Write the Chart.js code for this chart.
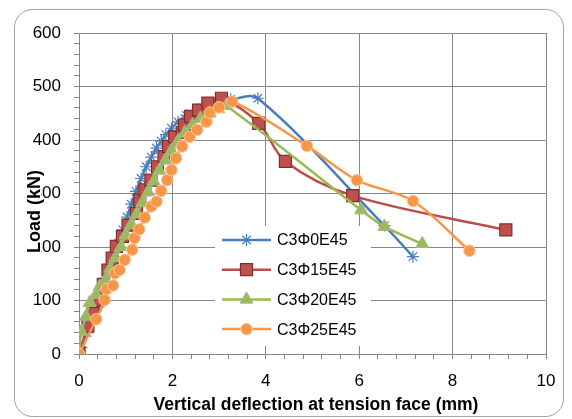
<!DOCTYPE html>
<html>
<head>
<meta charset="utf-8">
<title>Load - deflection</title>
<script src="https://cdn.jsdelivr.net/npm/chart.js@4.4.0/dist/chart.umd.min.js"></script>
<style>
  html, body { margin: 0; padding: 0; background: #fff; }
</style>
</head>
<body>
<canvas id="loadChart" width="572" height="419"></canvas>
<script>
// Load vs. vertical deflection at tension face, four specimens
var seriesNames = ["C3Φ0E45", "C3Φ15E45", "C3Φ20E45", "C3Φ25E45"];

var c0Defl = [0, 0.05, 0.17, 0.3, 0.4, 0.5, 0.58, 0.67, 0.76, 0.85, 0.94, 1.03, 1.12, 1.22, 1.33, 1.44, 1.55, 1.66, 1.76, 1.86, 1.98, 2.12, 2.3, 2.55, 2.8, 3.05, 3.25, 3.83, 6.54, 7.15];
var c0Load = [0, 12, 40, 65, 88, 112, 135, 158, 182, 207, 232, 256, 280, 304, 328, 350, 368, 385, 398, 410, 422, 434, 446, 458, 467, 474, 476, 478, 240, 182];

var c15Defl = [0, 0.19, 0.3, 0.41, 0.52, 0.62, 0.71, 0.8, 0.93, 1.05, 1.23, 1.3, 1.41, 1.54, 1.68, 1.82, 1.92, 2.05, 2.21, 2.26, 2.39, 2.56, 2.76, 3.05, 3.85, 4.42, 5.86, 9.14];
var c15Load = [2, 52, 76, 101, 130, 157, 179, 201, 220, 241, 263, 288, 307, 325, 350, 369, 388, 406, 414, 428, 444, 456, 469, 478, 431, 360, 296, 232];

var c20Defl = [0, 0.05, 0.15, 0.23, 0.37, 0.44, 0.57, 0.67, 0.78, 0.9, 1.0, 1.12, 1.24, 1.36, 1.48, 1.6, 1.72, 1.85, 1.98, 2.12, 2.27, 2.43, 2.6, 2.8, 2.98, 3.15, 6.04, 6.54, 7.35];
var c20Load = [0, 42, 70, 96, 111, 126, 139, 160, 180, 200, 222, 242, 262, 283, 303, 323, 343, 362, 380, 398, 414, 428, 440, 450, 458, 464, 269, 238, 206];

var c25Defl = [0, 0.37, 0.55, 0.59, 0.73, 0.77, 0.87, 0.98, 1.14, 1.19, 1.29, 1.41, 1.55, 1.66, 1.76, 1.89, 1.98, 2.08, 2.21, 2.37, 2.53, 2.73, 2.8, 3.0, 3.28, 4.88, 5.95, 7.15, 8.36];
var c25Load = [0, 65, 101, 121, 128, 151, 157, 176, 195, 217, 233, 255, 276, 285, 305, 325, 344, 366, 388, 406, 419, 434, 451, 461, 472, 389, 325, 286, 193];

var xTitle = "Vertical deflection at tension face (mm)";
var yTitle = "Load (kN)";

function toPoints(xs, ys) {
  return xs.map(function (x, i) {
    return { x: x, y: ys[i] };
  });
}

var gridColor = "#878787";
var font = "'Liberation Sans', Arial, sans-serif";

var styles = [
  { line: "#4a7ebb", fill: "#4a7ebb", border: "#4a7ebb", shape: "star", r: 6, bw: 1.2, order: 4 },
  { line: "#be4b48", fill: "#c0504d", border: "#7d2f2d", shape: "rect", r: 8.5, bw: 1.2, order: 3 },
  { line: "#98b954", fill: "#9bbb59", border: "#a5b596", shape: "triangle", r: 7.5, bw: 1, order: 2 },
  { line: "#f79646", fill: "#f79646", border: "#fbc8a0", shape: "circle", r: 5.8, bw: 1, order: 1 }
];

var seriesData = [
  toPoints(c0Defl, c0Load),
  toPoints(c15Defl, c15Load),
  toPoints(c20Defl, c20Load),
  toPoints(c25Defl, c25Load)
];

var datasets = seriesData.map(function (pts, i) {
  var s = styles[i];
  return {
    label: seriesNames[i],
    data: pts,
    showLine: true,
    borderColor: s.line,
    borderWidth: 2.5,
    tension: 0.33,
    pointStyle: s.shape,
    pointRadius: s.r,
    pointBackgroundColor: s.fill,
    pointBorderColor: s.border,
    pointBorderWidth: s.bw,
    order: s.order
  };
});

function isMajor(v, step) {
  return Math.abs(v / step - Math.round(v / step)) < 1e-6;
}

// frame, axis titles and the in-plot legend
var decorations = {
  id: "decorations",
  beforeDraw: function (chart) {
    var ctx = chart.ctx;
    ctx.save();
    ctx.fillStyle = "#fff";
    ctx.fillRect(0, 0, chart.width, chart.height);
    ctx.strokeStyle = "#a3a3a3";
    ctx.lineWidth = 1;
    ctx.beginPath();
    ctx.roundRect(14.5, 9.5, 549, 407, 18);
    ctx.stroke();
    ctx.restore();
  },
  beforeDatasetsDraw: function (chart) {
    var ctx = chart.ctx;
    ctx.save();
    // legend box
    ctx.fillStyle = "#fff";
    ctx.fillRect(215, 226, 156, 120);
    ctx.textBaseline = "middle";
    ctx.font = "16px " + font;
    for (var i = 0; i < seriesNames.length; i++) {
      var s = styles[i];
      var y = 240 + i * 29.7;
      ctx.strokeStyle = s.line;
      ctx.lineWidth = 2.5;
      ctx.beginPath();
      ctx.moveTo(222, y);
      ctx.lineTo(271, y);
      ctx.stroke();
      ctx.fillStyle = s.fill;
      ctx.strokeStyle = s.border;
      ctx.lineWidth = s.bw;
      Chart.helpers.drawPoint(ctx, { pointStyle: s.shape, radius: s.r, rotation: 0, borderWidth: s.bw }, 246.5, y);
      ctx.fillStyle = "#000";
      ctx.fillText(seriesNames[i], 277, y + 1);
    }
    ctx.restore();
  },
  afterDraw: function (chart) {
    var ctx = chart.ctx;
    ctx.save();
    ctx.fillStyle = "#000";
    ctx.font = "bold 17.5px " + font;
    ctx.textAlign = "center";
    ctx.textBaseline = "middle";
    ctx.fillText(xTitle, 316, 405);
    ctx.font = "bold 18px " + font;
    ctx.translate(34, 211.5);
    ctx.rotate(-Math.PI / 2);
    var w = ctx.measureText(yTitle).width;
    ctx.fillStyle = "#fff";
    ctx.fillRect(-w / 2, -7, w, 14);
    ctx.fillStyle = "#000";
    ctx.fillText(yTitle, 0, 1);
    ctx.restore();
  }
};

var ctxLoad = document.getElementById("loadChart").getContext("2d");

new Chart(ctxLoad, {
  type: "scatter",
  data: { datasets: datasets },
  options: {
    responsive: false,
    animation: false,
    layout: { padding: { top: 33, right: 26, left: 0, bottom: 0 } },
    plugins: {
      legend: { display: false },
      tooltip: { enabled: false }
    },
    scales: {
      x: {
        type: "linear",
        min: 0,
        max: 10,
        afterFit: function (scale) { scale.height = 65; },
        border: { color: gridColor, width: 1 },
        grid: {
          color: function (c) { return isMajor(c.tick.value, 2) ? gridColor : "rgba(0,0,0,0)"; },
          tickColor: gridColor,
          tickLength: 5,
          lineWidth: 1
        },
        ticks: {
          stepSize: 0.4,
          autoSkip: false,
          maxRotation: 0,
          padding: 12,
          color: "#000",
          font: { family: font, size: 17 },
          callback: function (v) { return isMajor(v, 2) ? String(Math.round(v)) : ""; }
        }
      },
      y: {
        type: "linear",
        min: 0,
        max: 600,
        afterFit: function (scale) { scale.width = 79; },
        border: { color: gridColor, width: 1 },
        grid: {
          color: function (c) { return isMajor(c.tick.value, 100) ? gridColor : "rgba(0,0,0,0)"; },
          tickColor: gridColor,
          tickLength: 5,
          lineWidth: 1
        },
        ticks: {
          stepSize: 20,
          autoSkip: false,
          padding: 13,
          color: "#000",
          font: { family: font, size: 17 },
          callback: function (v) { return isMajor(v, 100) ? String(Math.round(v)) : ""; }
        }
      }
    }
  },
  plugins: [decorations]
});
</script>
</body>
</html>
